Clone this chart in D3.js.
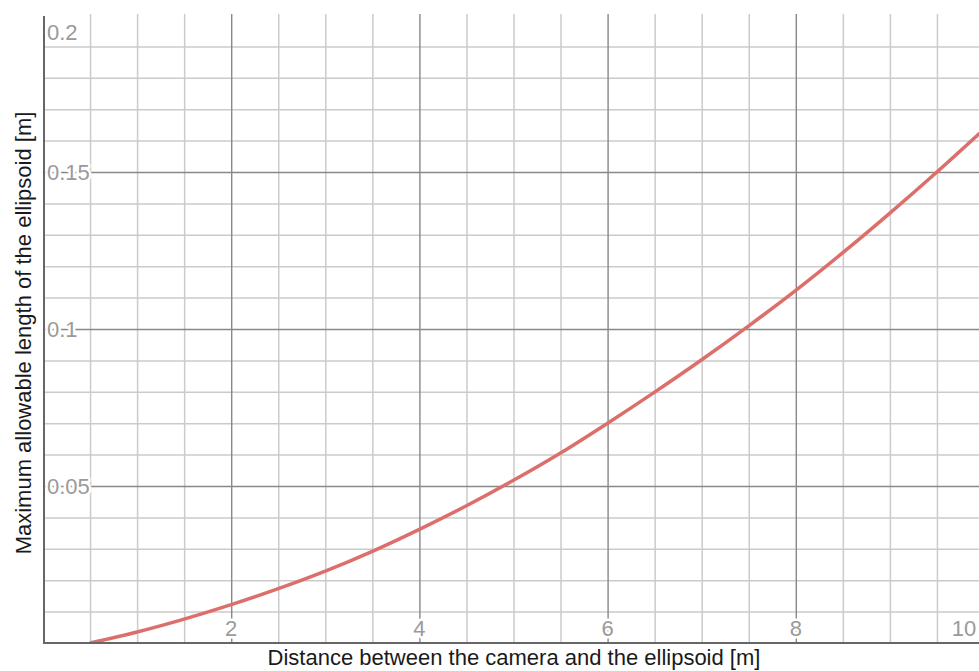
<!DOCTYPE html>
<html>
<head>
<meta charset="utf-8">
<script src="https://cdn.jsdelivr.net/npm/d3@7/dist/d3.min.js"></script>
<style>
  html, body { margin: 0; padding: 0; background: #fff; }
  svg { display: block; }
  text { font-family: "Liberation Sans", Arial, Helvetica, sans-serif; }
</style>
</head>
<body>
<svg id="chart" width="979" height="671"></svg>
<script>
// Distance between camera and ellipsoid [m]
const distance = [0.5, 1, 1.5, 2, 2.5, 3, 3.5, 4, 4.5, 5, 5.5, 6, 6.5, 7, 7.5, 8, 8.5, 9, 9.5, 10];
// Maximum allowable length of the ellipsoid [m]
const maxLength = [0, 0.0035, 0.0076, 0.0122, 0.0173, 0.0229, 0.0292, 0.0362, 0.0437, 0.0518,
                   0.0605, 0.0700, 0.0799, 0.0902, 0.1010, 0.1123, 0.1243, 0.1369, 0.1500, 0.1636];

const xMajorTicks = [2, 4, 6, 8, 10];
const xTickLabels = ["2", "4", "6", "8", "10"];
const yMajorTicks = [0.05, 0.1, 0.15, 0.2];
const yTickLabels = ["0.05", "0.1", "0.15", "0.2"];
const xMinorStep = 0.5;
const yMinorStep = 0.01;

const xTitle = "Distance between the camera and the ellipsoid [m]";
const yTitle = "Maximum allowable length of the ellipsoid [m]";

const W = 979, H = 671;
const plot = { left: 43, right: 984, top: 15, bottom: 643 };

const svg = d3.select("#chart");

const x = d3.scaleLinear().domain([0, 10]).range([plot.left, plot.right]);
const y = d3.scaleLinear().domain([0, 0.2]).range([plot.bottom, plot.top]);

const xMinor = d3.range(xMinorStep, 10 + 1e-9, xMinorStep).filter(v => !xMajorTicks.includes(v));
const yMinor = d3.range(yMinorStep, 0.2 - 1e-9, yMinorStep)
  .map(v => +v.toFixed(2))
  .filter(v => !yMajorTicks.some(t => Math.abs(t - v) < 1e-9));

svg.append("defs").append("clipPath").attr("id", "plotClip")
  .append("rect")
  .attr("x", plot.left).attr("y", plot.top - 1)
  .attr("width", W - plot.left).attr("height", plot.bottom - plot.top + 1);

const grid = svg.append("g").attr("clip-path", "url(#plotClip)");

// minor grid
grid.append("g")
  .attr("transform", `translate(0,${plot.bottom})`)
  .call(d3.axisBottom(x).tickValues(xMinor).tickSize(-(plot.bottom - plot.top + 1)).tickFormat(""))
  .call(g => g.select(".domain").remove())
  .call(g => g.selectAll("line").attr("stroke", "#cbcbcb").attr("stroke-width", 1.5));

grid.append("g")
  .attr("transform", `translate(${plot.left},0)`)
  .call(d3.axisLeft(y).tickValues(yMinor).tickSize(-(W - plot.left)).tickFormat(""))
  .call(g => g.select(".domain").remove())
  .call(g => g.selectAll("line").attr("stroke", "#cbcbcb").attr("stroke-width", 1.5));

// major grid
grid.append("g")
  .attr("transform", `translate(0,${plot.bottom})`)
  .call(d3.axisBottom(x).tickValues(xMajorTicks).tickSize(-(plot.bottom - plot.top + 1)).tickFormat(""))
  .call(g => g.select(".domain").remove())
  .call(g => g.selectAll("line").attr("stroke", "#888").attr("stroke-width", 1.4));

grid.append("g")
  .attr("transform", `translate(${plot.left},0)`)
  .call(d3.axisLeft(y).tickValues(yMajorTicks.filter(v => v < 0.2)).tickSize(-(W - plot.left)).tickFormat(""))
  .call(g => g.select(".domain").remove())
  .call(g => g.selectAll("line").attr("stroke", "#888").attr("stroke-width", 1.4));

// data line
const line = d3.line()
  .x((d, i) => x(distance[i]))
  .y(d => y(d))
  .curve(d3.curveMonotoneX);

svg.append("path")
  .datum(maxLength)
  .attr("clip-path", "url(#plotClip)")
  .attr("d", line)
  .attr("fill", "none")
  .attr("stroke", "#dc6f6c")
  .attr("stroke-width", 3.5)
  .attr("stroke-linecap", "butt");

// axis lines
svg.append("line")
  .attr("x1", plot.left + 1).attr("x2", plot.left + 1)
  .attr("y1", plot.top + 1).attr("y2", plot.bottom + 1)
  .attr("stroke", "#666").attr("stroke-width", 2);
svg.append("line")
  .attr("x1", plot.left).attr("x2", W)
  .attr("y1", plot.bottom).attr("y2", plot.bottom)
  .attr("stroke", "#666").attr("stroke-width", 2);

// tick labels drawn inside the plot, with a white halo over the grid
const labelStyle = sel => sel
  .attr("font-size", 22)
  .attr("fill", "#9a9a9a")
  .attr("stroke", "#fff")
  .attr("stroke-width", 5)
  .attr("paint-order", "stroke")
  .attr("stroke-linejoin", "round");

svg.append("g").selectAll("text")
  .data(xMajorTicks)
  .join("text")
  .attr("x", d => Math.min(x(d), W - 15))
  .attr("y", plot.bottom - 7)
  .attr("text-anchor", "middle")
  .text((d, i) => xTickLabels[i])
  .call(labelStyle);

svg.append("g").selectAll("text")
  .data(yMajorTicks)
  .join("text")
  .attr("x", plot.left + 4)
  .attr("y", d => Math.max(y(d), plot.top + 17))
  .attr("dy", "0.36em")
  .attr("text-anchor", "start")
  .text((d, i) => yTickLabels[i])
  .call(labelStyle);

// axis titles
svg.append("text")
  .attr("x", 514)
  .attr("y", 665)
  .attr("text-anchor", "middle")
  .attr("font-size", 22)
  .attr("fill", "#1a1a1a")
  .text(xTitle);

svg.append("text")
  .attr("transform", `translate(31,333) rotate(-90)`)
  .attr("text-anchor", "middle")
  .attr("font-size", 22)
  .attr("fill", "#1a1a1a")
  .text(yTitle);
</script>
</body>
</html>
